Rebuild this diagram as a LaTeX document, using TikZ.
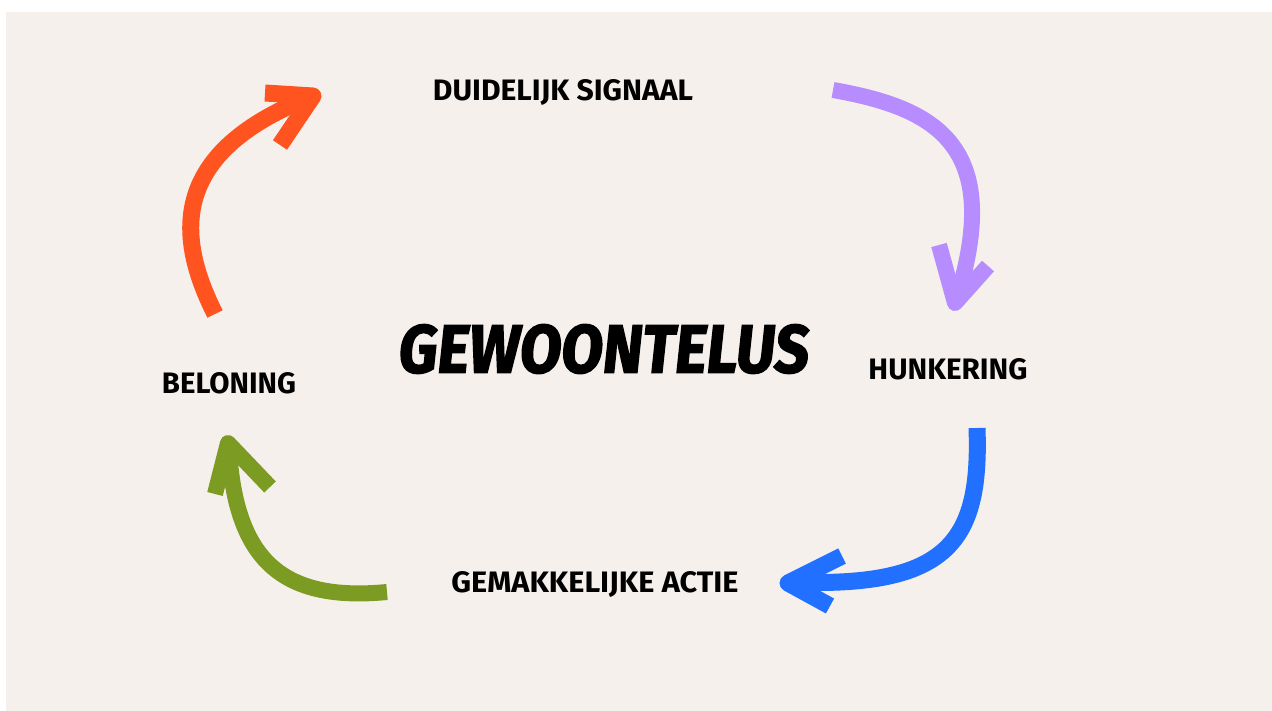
\documentclass[tikz,border=0pt]{standalone}
\usepackage{graphicx}
\usepackage{fontspec}
\setmainfont{Fira Sans}
\newfontfamily\titlefont{Fira Sans}[FakeSlant=0.12, FakeBold=2.5]
\definecolor{bgbeige}{HTML}{F5F0EC}
\definecolor{aorange}{HTML}{FF5420}
\definecolor{apurple}{HTML}{B68CFF}
\definecolor{ablue}{HTML}{2170FF}
\definecolor{agreen}{HTML}{7B9B23}
\tikzset{
  lbl/.style={inner sep=0pt, anchor=center, text=black},
  shaft/.style={line width=17pt, line cap=butt},
  head/.style={line width=17pt, line cap=butt, line join=round},
}
\begin{document}
\begin{tikzpicture}[x=1pt,y=-1pt]
\useasboundingbox (0,0) rectangle (1272,711);
\fill[white] (0,0) rectangle (1272,711);
\fill[bgbeige] (6,12) rectangle (1272,711);
% labels
\node[lbl] (sig) at (563,93) {\resizebox{260pt}{21pt}{\bfseries DUIDELIJK SIGNAAL}};
\node[lbl] (hunk) at (948,369) {\resizebox{159pt}{21pt}{\bfseries HUNKERING}};
\node[lbl] (bel) at (229,383) {\resizebox{134pt}{21pt}{\bfseries BELONING}};
\node[lbl] (act) at (595,584) {\resizebox{287pt}{21pt}{\bfseries GEMAKKELIJKE ACTIE}};
\node[lbl] (title) at (602,349) {\resizebox{410pt}{48pt}{\titlefont\bfseries GEWOONTELUS}};
% orange arrow
\coordinate (o1) at (215,314);
\coordinate (o2) at (308,98);
\draw[aorange, shaft] (o1) .. controls (178,240) and (166,155) .. (o2);
\draw[aorange, head] (265,93) -- (313,96) -- (280,145);
% purple arrow
\coordinate (p1) at (833,90);
\coordinate (p2) at (957,298);
\draw[apurple, shaft, line width=16pt] (p1) .. controls (935,108) and (1004,145) .. (p2);
\draw[apurple, head, line width=16pt] (939,245) -- (955,303) -- (988,266);
% blue arrow
\coordinate (b1) at (977,428);
\coordinate (b2) at (792,582);
\draw[ablue, shaft] (b1) .. controls (981,540) and (950,588) .. (b2);
\draw[ablue, head] (842,556) -- (788,583) -- (830,606);
% green arrow
\coordinate (g1) at (387,592);
\coordinate (g2) at (229,450);
\draw[agreen, shaft, line width=16pt] (g1) .. controls (282,602) and (236,560) .. (g2);
\draw[agreen, head, line width=16pt] (215,494) -- (228,443) -- (270,487);
\end{tikzpicture}
\end{document}
